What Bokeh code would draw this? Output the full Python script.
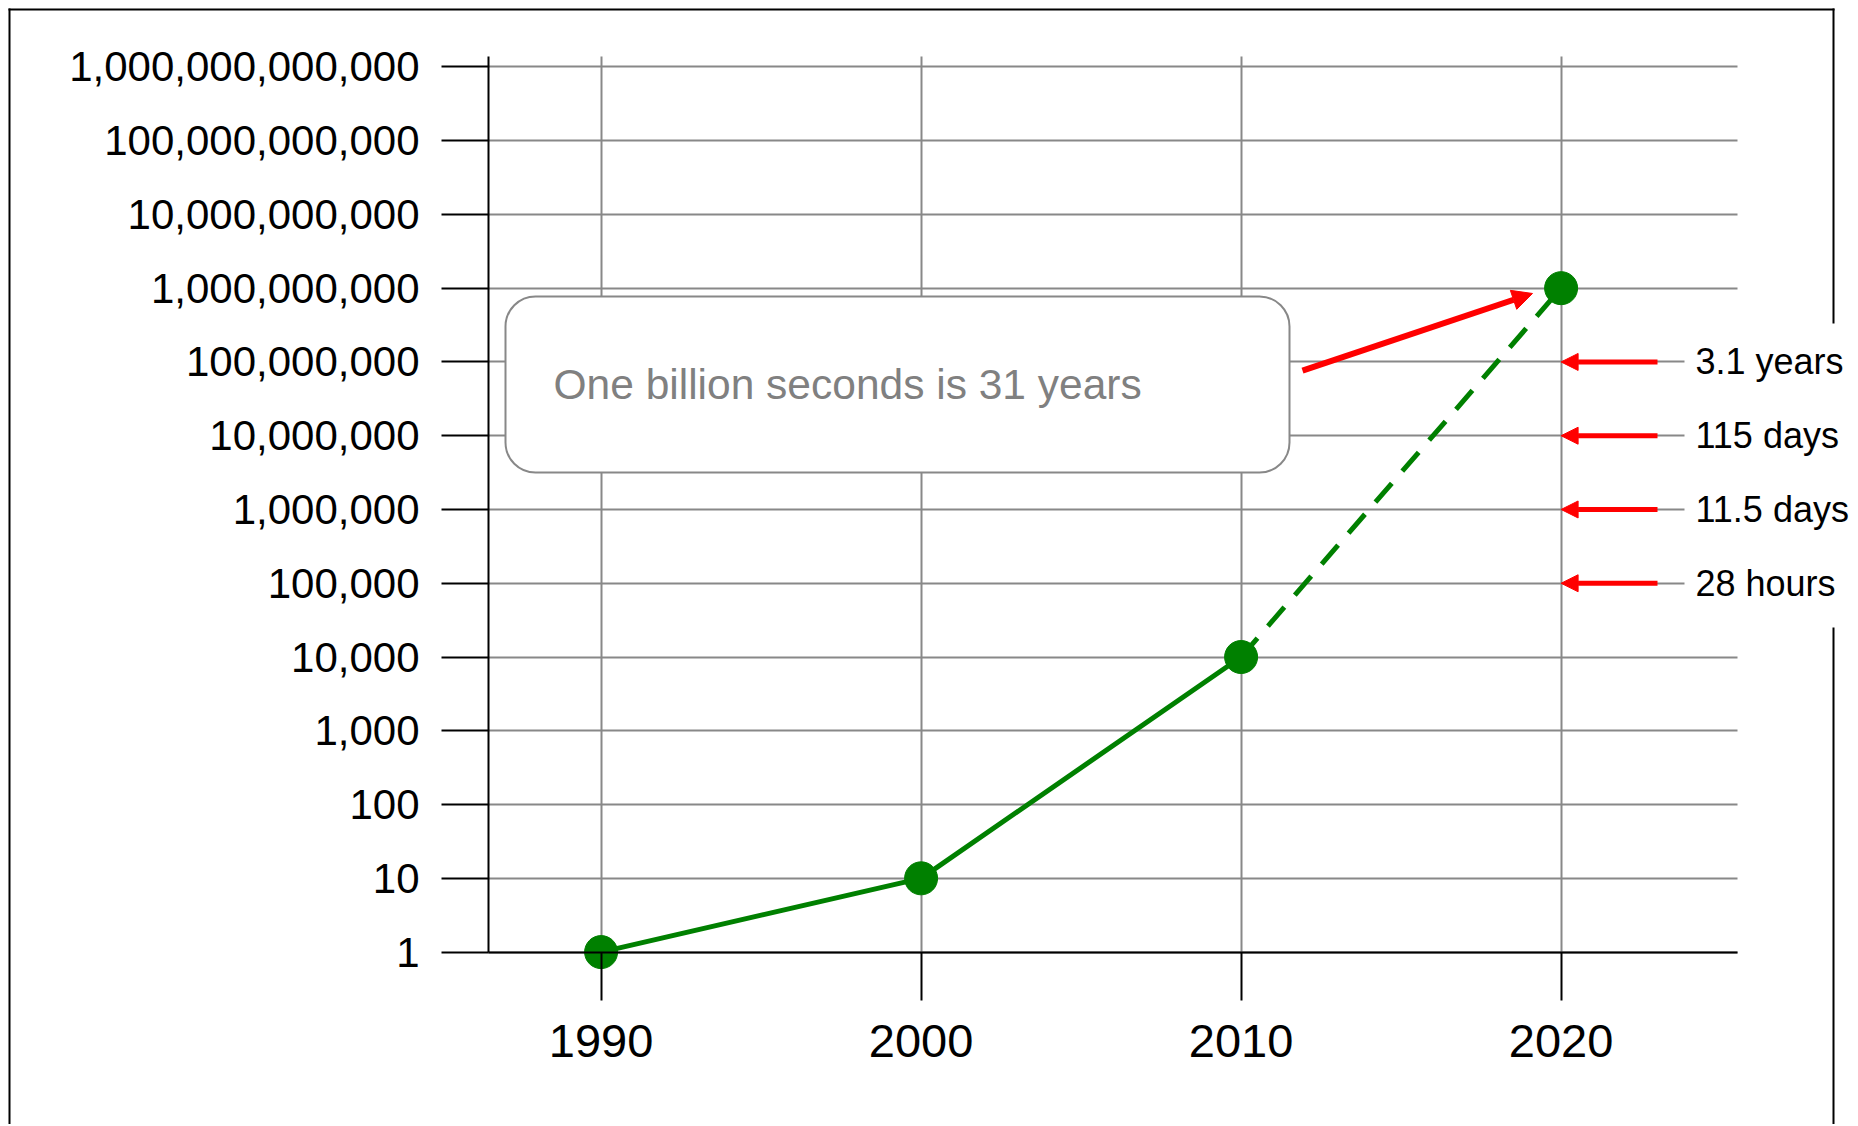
from bokeh.plotting import figure
from bokeh.models import FixedTicker, BoxAnnotation, Label, Arrow, NormalHead, Grid
from bokeh.embed import file_html
from bokeh.resources import INLINE

# ---------------- data ----------------
years = [1990, 2000, 2010, 2020]
seconds = [1, 10, 10000, 1000000000]
measured_years = [1990, 2000, 2010]
measured_values = [1, 10, 10000]
projected_years = [2010, 2020]
projected_values = [10000, 1000000000]

x_ticks = [1990, 2000, 2010, 2020]
x_tick_labels = ["1990", "2000", "2010", "2020"]
y_ticks = [1, 10, 100, 1000, 10000, 100000, 1000000, 10000000, 100000000,
           1000000000, 10000000000, 100000000000, 1000000000000]
y_tick_labels = ["1", "10", "100", "1,000", "10,000", "100,000", "1,000,000",
                 "10,000,000", "100,000,000", "1,000,000,000", "10,000,000,000",
                 "100,000,000,000", "1,000,000,000,000"]

note_text = "One billion seconds is 31 years"
side_values = [100000000, 10000000, 1000000, 100000]
side_labels = ["3.1 years", "115 days", "11.5 days", "28 hours"]

# ---------------- layout (page pixels) ----------------
W, H = 1856, 1124
PX_PER_YEAR = 32.0
PX_1990 = 600.6
PX_PER_DECADE = 73.77
PY_ONE = 951.6
FONT = "Liberation Sans"


def xd(px):
    return 1990 + (px - PX_1990) / PX_PER_YEAR


def yd(py):
    return 10 ** ((PY_ONE - py) / PX_PER_DECADE)


AX_LEFT, AX_RIGHT, AX_TOP = xd(488), xd(1737), yd(55.7)

p = figure(width=W, height=H, x_range=(xd(0), xd(W)), y_range=(yd(H), yd(0)),
           y_axis_type="log", output_backend="svg", toolbar_location=None,
           min_border=0)
p.outline_line_color = None
p.background_fill_color = "white"
p.border_fill_color = "white"

xt = FixedTicker(ticks=x_ticks)
yt = FixedTicker(ticks=y_ticks)
p.xaxis.ticker = xt
p.yaxis.ticker = yt
p.xaxis.major_label_overrides = dict(zip(x_ticks, x_tick_labels))
p.yaxis.major_label_overrides = dict(zip(y_ticks, y_tick_labels))
p.xaxis.fixed_location = seconds[0]
p.yaxis.fixed_location = AX_LEFT
p.xaxis.bounds = (AX_LEFT, AX_RIGHT)
p.yaxis.bounds = (seconds[0], AX_TOP)

for ax in (p.xaxis, p.yaxis):
    ax.axis_line_color = "black"
    ax.axis_line_width = 2
    ax.major_tick_line_color = "black"
    ax.major_tick_line_width = 2
    ax.major_tick_in = 0
    ax.minor_tick_line_color = None
    ax.major_label_text_font = FONT
    ax.major_label_text_color = "black"
p.yaxis.major_tick_out = 47
p.yaxis.major_label_standoff = 22
p.yaxis.major_label_text_font_size = "42px"
p.xaxis.major_tick_out = 48
p.xaxis.major_label_standoff = 25
p.xaxis.major_label_text_font_size = "47px"

GRID_COLOR = "#888888"
if "cross_bounds" in Grid.properties():
    p.xgrid.ticker = xt
    p.ygrid.ticker = yt
    p.xgrid.cross_bounds = (seconds[0], AX_TOP)
    p.ygrid.cross_bounds = (AX_LEFT, AX_RIGHT)
    for g in (p.xgrid, p.ygrid):
        g.grid_line_color = GRID_COLOR
        g.grid_line_width = 2
else:
    p.xgrid.grid_line_color = None
    p.ygrid.grid_line_color = None
    p.segment(x0=x_ticks, x1=x_ticks, y0=[seconds[0]] * len(x_ticks),
              y1=[AX_TOP] * len(x_ticks), line_color=GRID_COLOR, line_width=2,
              level="underlay")
    p.segment(x0=[AX_LEFT] * len(y_ticks), x1=[AX_RIGHT] * len(y_ticks),
              y0=y_ticks, y1=y_ticks, line_color=GRID_COLOR, line_width=2,
              level="underlay")

# ---------------- series ----------------
p.line(measured_years, measured_values, line_color="green", line_width=5)
p.line(projected_years, projected_values, line_color="green", line_width=5,
       line_dash="25 16")
p.scatter(years, seconds, size=33, fill_color="green", line_color="green")

# ---------------- decorations ----------------
# outer frame: left, top and right edges (bottom lies below the window)
for l, r, t, b in [(8, 10, 8, 1400), (8, 1834, 8, 10), (1832, 1834, 8, 1400)]:
    p.add_layout(BoxAnnotation(left=xd(l), right=xd(r), top=yd(t), bottom=yd(b),
                               fill_color="black", fill_alpha=1, line_color=None))

side_bg = BoxAnnotation(left=xd(1684), right=xd(1950), top=yd(323), bottom=yd(627),
                        fill_color="white", fill_alpha=1, line_color=None)
p.add_layout(side_bg)

note_box = BoxAnnotation(left=xd(505), right=xd(1289), top=yd(296), bottom=yd(472),
                         fill_color="white", fill_alpha=1, line_color="#888888",
                         line_alpha=1, line_width=2, border_radius=30)
p.add_layout(note_box)
p.add_layout(Label(x=xd(553), y=yd(384), text=note_text, text_font=FONT,
                   text_font_size="42.5px", text_color="#808080",
                   text_baseline="middle", text_align="left"))

p.add_layout(Arrow(x_start=xd(1302), y_start=10 ** (8 - 8.7 / PX_PER_DECADE),
                   x_end=xd(1532), y_end=10 ** (9 - 5.3 / PX_PER_DECADE),
                   line_color="red", line_width=6,
                   end=NormalHead(size=20, fill_color="red", line_color="red",
                                  line_width=1)))

for v, txt in zip(side_values, side_labels):
    p.add_layout(Arrow(x_start=xd(1657), y_start=v, x_end=years[-1], y_end=v,
                       line_color="red", line_width=5,
                       end=NormalHead(size=17, fill_color="red", line_color="red",
                                      line_width=1)))
    p.add_layout(Label(x=xd(1695), y=v, text=txt, text_font=FONT,
                       text_font_size="36px", text_color="black",
                       text_baseline="middle", text_align="left"))

open("out.html", "w").write(file_html(p, INLINE))
